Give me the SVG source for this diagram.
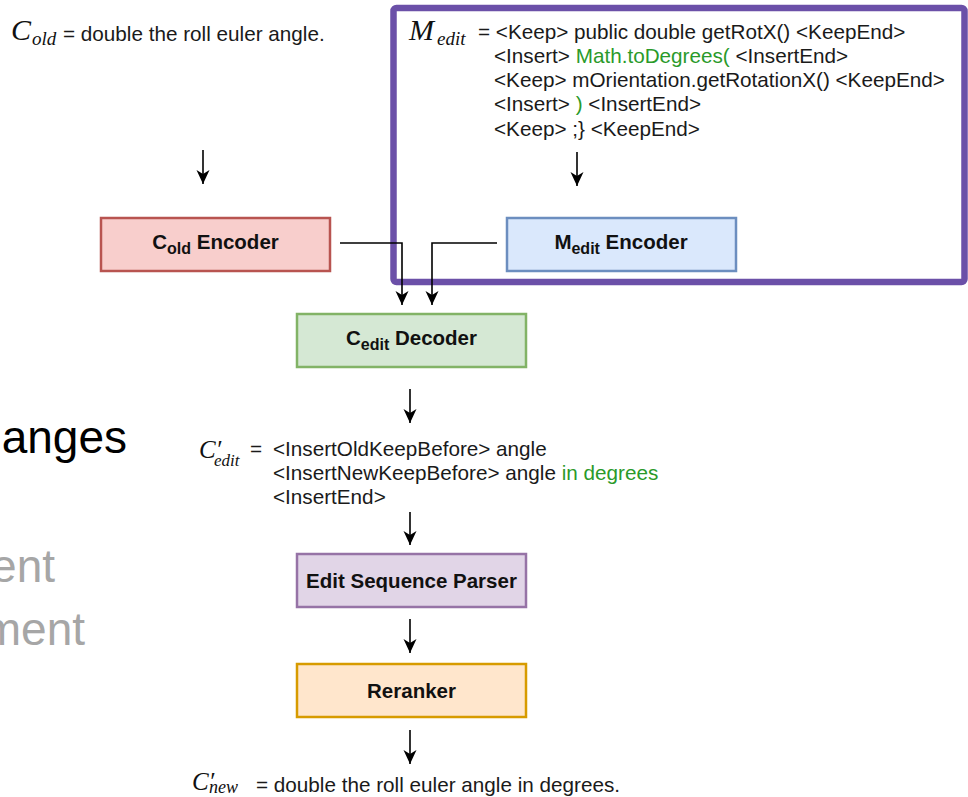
<svg xmlns="http://www.w3.org/2000/svg" width="968" height="797" viewBox="0 0 968 797">
  <style>
    .t { font-family: "Liberation Sans", Arial, sans-serif; font-size: 20.7px; fill: #1a1a1a; }
    .b { font-family: "Liberation Sans", Arial, sans-serif; font-size: 20.5px; font-weight: bold; fill: #111; }
    .m { font-family: "Liberation Serif", "Times New Roman", serif; font-style: italic; fill: #111; }
    .g { fill: #2a9a2a; }
    .big { font-family: "Liberation Sans", Arial, sans-serif; font-size: 46px; }
    .box { stroke-width: 2.5; }
    .wire { fill: none; stroke: #000; stroke-width: 1.6; }
  </style>
  <defs>
    <marker id="arrow" markerUnits="userSpaceOnUse" markerWidth="16" markerHeight="16" viewBox="-15 -8 16 16" refX="0" refY="0" orient="auto">
      <path d="M0,0 L-14,-6.5 L-10,0 L-14,6.5 Z" fill="#000"/>
    </marker>
  </defs>

  <rect width="968" height="797" fill="#fff"/>

  <!-- partially visible slide text on the left -->
  <g id="slide-text">
    <text class="big" x="127" y="453" text-anchor="end" fill="#000">anges</text>
    <text class="big" x="55" y="582" text-anchor="end" fill="#a6a6a6">ent</text>
    <text class="big" x="85" y="645" text-anchor="end" fill="#a6a6a6">ment</text>
  </g>

  <!-- edit-representation frame -->
  <rect id="edit-frame" x="393.5" y="8" width="571" height="274" rx="3" fill="none" stroke="#6b50a8" stroke-width="6.5"/>

  <!-- input: old comment -->
  <g id="c-old">
    <text class="m" x="11" y="40" font-size="30">C</text>
    <text class="m" x="32" y="45" font-size="19">old</text>
    <text class="t" x="63" y="41">= double the roll euler angle.</text>
  </g>

  <!-- input: code edit -->
  <g id="m-edit">
    <text class="m" x="409" y="40" font-size="30">M</text>
    <text class="m" x="437" y="45" font-size="19">edit</text>
    <text class="t" x="478" y="39">= &lt;Keep&gt; public double getRotX() &lt;KeepEnd&gt;</text>
    <text class="t" x="494" y="63">&lt;Insert&gt; <tspan class="g">Math.toDegrees(</tspan> &lt;InsertEnd&gt;</text>
    <text class="t" x="494" y="87">&lt;Keep&gt; mOrientation.getRotationX() &lt;KeepEnd&gt;</text>
    <text class="t" x="494" y="111">&lt;Insert&gt; <tspan class="g">)</tspan> &lt;InsertEnd&gt;</text>
    <text class="t" x="494" y="136">&lt;Keep&gt; ;} &lt;KeepEnd&gt;</text>
  </g>

  <!-- nodes -->
  <g id="c-old-encoder">
    <rect class="box" x="101" y="218" width="229" height="53" fill="#f8cecc" stroke="#b85450"/>
    <text class="b" x="215.5" y="249" text-anchor="middle">C<tspan font-size="16" dy="5">old</tspan><tspan dy="-5"> Encoder</tspan></text>
  </g>
  <g id="m-edit-encoder">
    <rect class="box" x="507" y="218" width="229" height="53" fill="#dae8fc" stroke="#6c8ebf"/>
    <text class="b" x="621" y="249" text-anchor="middle">M<tspan font-size="16" dy="5">edit</tspan><tspan dy="-5"> Encoder</tspan></text>
  </g>
  <g id="c-edit-decoder">
    <rect class="box" x="297" y="314" width="229" height="53" fill="#d5e8d4" stroke="#82b366"/>
    <text class="b" x="411.5" y="345" text-anchor="middle">C<tspan font-size="16" dy="5">edit</tspan><tspan dy="-5"> Decoder</tspan></text>
  </g>
  <g id="edit-sequence-parser">
    <rect class="box" x="297" y="554" width="229" height="53" fill="#e1d5e7" stroke="#9673a6"/>
    <text class="b" x="411.5" y="588" text-anchor="middle">Edit Sequence Parser</text>
  </g>
  <g id="reranker">
    <rect class="box" x="297" y="664" width="229" height="53" fill="#ffe6cc" stroke="#d79b00"/>
    <text class="b" x="411.5" y="698" text-anchor="middle">Reranker</text>
  </g>

  <!-- intermediate: decoded edit sequence -->
  <g id="c-edit-output">
    <text class="m" x="199" y="458" font-size="25">C′</text>
    <text class="m" x="214" y="466" font-size="17">edit</text>
    <text class="t" x="250" y="456">=</text>
    <text class="t" x="273" y="456">&lt;InsertOldKeepBefore&gt; angle</text>
    <text class="t" x="273" y="480">&lt;InsertNewKeepBefore&gt; angle <tspan class="g">in degrees</tspan></text>
    <text class="t" x="273" y="504">&lt;InsertEnd&gt;</text>
  </g>

  <!-- output: new comment -->
  <g id="c-new">
    <text class="m" x="192" y="790" font-size="25">C′</text>
    <text class="m" x="209" y="793" font-size="18">new</text>
    <text class="t" x="256" y="792">= double the roll euler angle in degrees.</text>
  </g>

  <!-- connectors -->
  <g id="connectors">
    <path class="wire" d="M203,150 V184" marker-end="url(#arrow)"/>
    <path class="wire" d="M577,152 V186" marker-end="url(#arrow)"/>
    <path class="wire" d="M340,243 H402 V305" marker-end="url(#arrow)"/>
    <path class="wire" d="M497,243 H432 V305" marker-end="url(#arrow)"/>
    <path class="wire" d="M410,389 V423" marker-end="url(#arrow)"/>
    <path class="wire" d="M410,512 V545" marker-end="url(#arrow)"/>
    <path class="wire" d="M410,619 V653" marker-end="url(#arrow)"/>
    <path class="wire" d="M410,730 V764" marker-end="url(#arrow)"/>
  </g>
</svg>
